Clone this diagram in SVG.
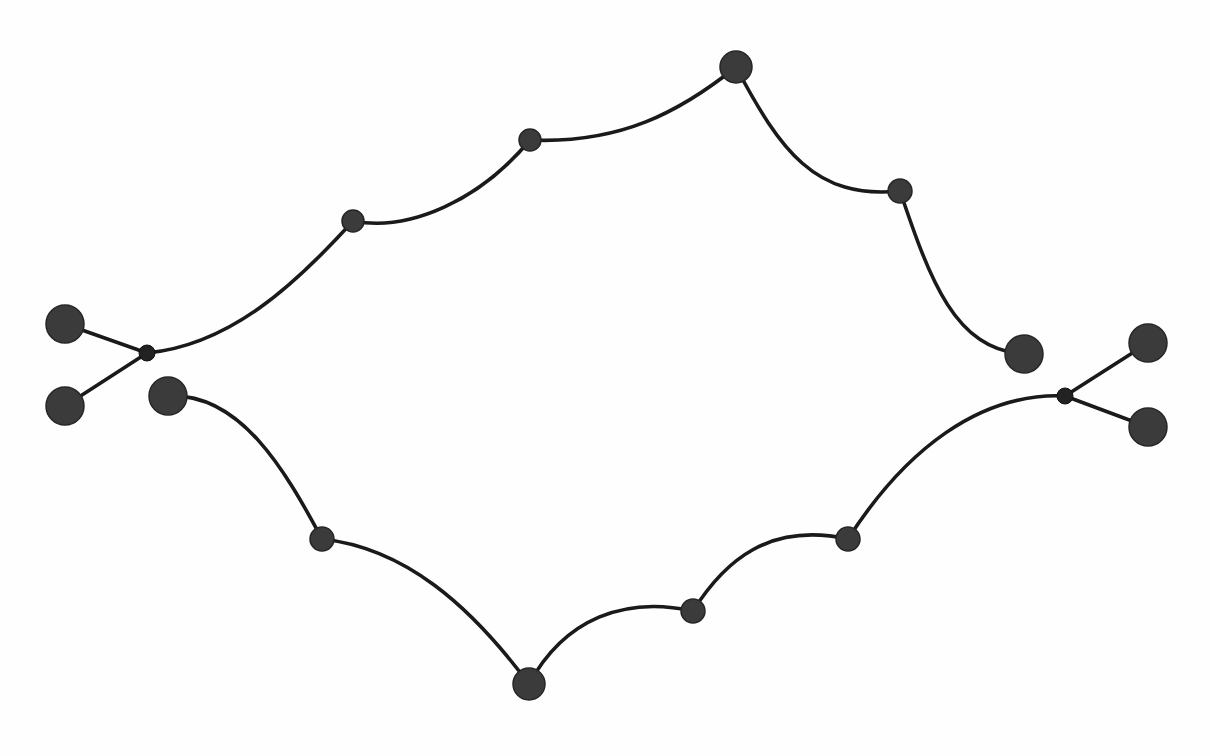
<svg xmlns="http://www.w3.org/2000/svg" width="1212" height="756" viewBox="0 0 1212 756">
<style>
.e{fill:none;stroke:#1a1a1a;stroke-width:3.6;stroke-linecap:round}
.n{fill:#3b3b3b;stroke:#262626;stroke-width:1.5}
.j{fill:#222;stroke:#111;stroke-width:1}
</style>
<rect width="1212" height="756" fill="#fefefe"/>
<g id="connectors">
<path class="e" d="M65,324 L147,353"/>
<path class="e" d="M65,406 L147,353"/>
<path class="e" d="M147,353 C230,345 295,285 353,221"/>
<path class="e" d="M353,221 C410,232 480,200 530,140"/>
<path class="e" d="M530,140 C620,144 680,112 736,67"/>
<path class="e" d="M736,67 C780,150 815,200 900,191"/>
<path class="e" d="M900,191 C930,280 955,350 1024,354"/>
<path class="e" d="M1148,343 L1065,396"/>
<path class="e" d="M1148,427 L1065,396"/>
<path class="e" d="M1065,396 C980,392 905,450 848,539"/>
<path class="e" d="M848,539 C770,522 725,560 693,611"/>
<path class="e" d="M693,611 C625,596 565,618 529,684"/>
<path class="e" d="M529,684 C470,605 405,548 322,539"/>
<path class="e" d="M322,539 C285,470 240,392 168,396"/>
</g>
<g id="n-l1"><circle class="n" cx="65" cy="324" r="19"/></g>
<g id="n-l2"><circle class="n" cx="65" cy="406" r="19"/></g>
<g id="n-j1"><circle class="j" cx="147" cy="353" r="8"/></g>
<g id="n-a"><circle class="n" cx="353" cy="221" r="11"/></g>
<g id="n-b"><circle class="n" cx="530" cy="140" r="11"/></g>
<g id="n-c"><circle class="n" cx="736" cy="67" r="16"/></g>
<g id="n-d"><circle class="n" cx="900" cy="191" r="12"/></g>
<g id="n-e"><circle class="n" cx="1024" cy="354" r="19"/></g>
<g id="n-r1"><circle class="n" cx="1148" cy="343" r="19"/></g>
<g id="n-r2"><circle class="n" cx="1148" cy="427" r="19"/></g>
<g id="n-j2"><circle class="j" cx="1065" cy="396" r="8"/></g>
<g id="n-f"><circle class="n" cx="848" cy="539" r="12"/></g>
<g id="n-g"><circle class="n" cx="693" cy="611" r="12"/></g>
<g id="n-h"><circle class="n" cx="529" cy="684" r="16"/></g>
<g id="n-i"><circle class="n" cx="322" cy="539" r="12"/></g>
<g id="n-k"><circle class="n" cx="168" cy="396" r="19"/></g>
</svg>
